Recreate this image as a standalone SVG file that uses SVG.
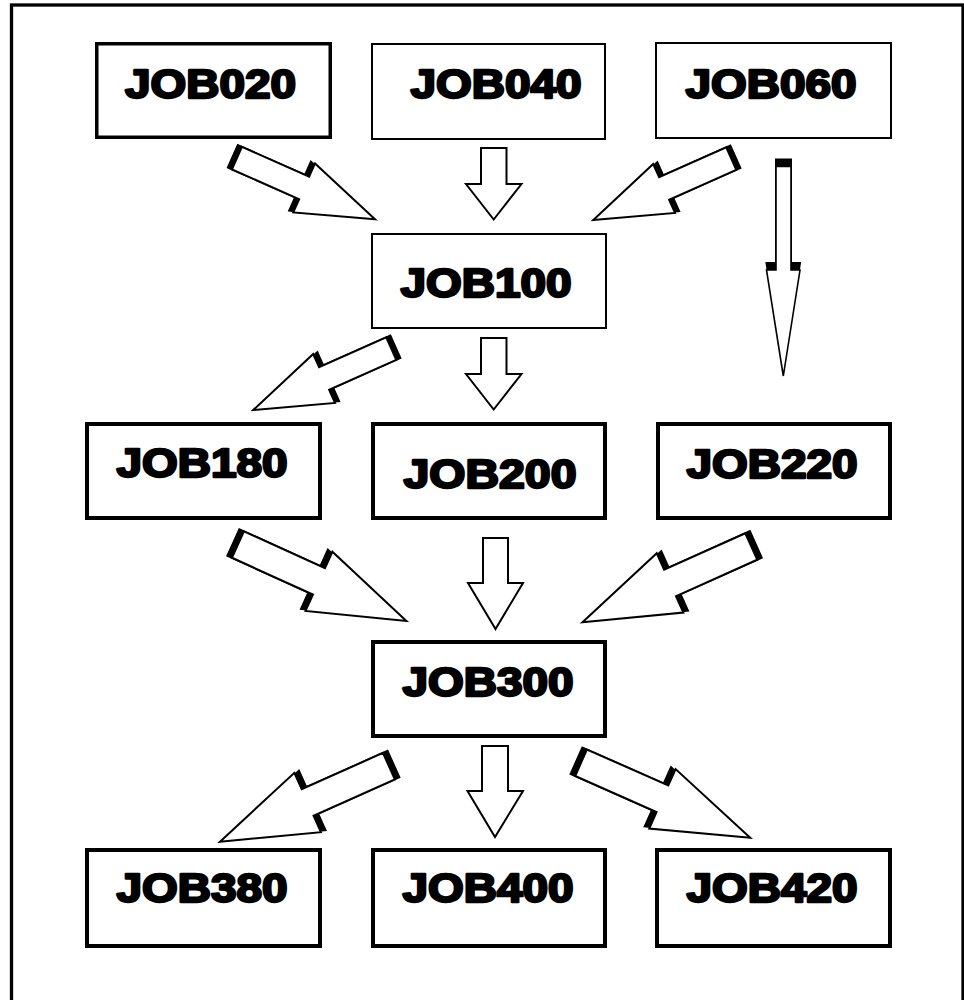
<svg xmlns="http://www.w3.org/2000/svg" xmlns:xlink="http://www.w3.org/1999/xlink" width="964" height="1000" viewBox="0 0 964 1000">
<style>
.frame{fill:none;stroke:#000;stroke-width:3.3}
.box{fill:#fff;stroke:#000}
.thin{stroke-width:2}
.mid{stroke-width:3.5}
.thick{stroke-width:4}
.lbl{font-family:"Liberation Sans",Arial,sans-serif;font-weight:bold;font-size:40px;fill:#000;stroke:#000;stroke-width:2.4;stroke-linejoin:round;text-anchor:middle}
.arr{fill:#fff;stroke:#000;stroke-width:2;stroke-linejoin:miter}
.shd{fill:#000;stroke:#000;stroke-width:2;stroke-linejoin:miter}
.arrthin{fill:#fff;stroke:#000;stroke-width:1.6}
</style>
<defs>
<polygon id="dsm" points="0,0 -77.5,-26.8 -77.5,-12.3 -151,-12.3 -151,12.3 -77.5,12.3 -77.5,26.8"/>
<polygon id="dlg" points="0,0 -96,-32.5 -96,-14.5 -185,-14.5 -185,14.5 -96,14.5 -96,32.5"/>
</defs>
<rect class="frame" x="11.5" y="5" width="951.5" height="1000"/>

<g id="connectors">
<!-- JOB020 -> JOB100 -->
<use xlink:href="#dsm" class="shd" transform="translate(375,219.3) rotate(23.9) translate(-4.5,0)"/>
<use xlink:href="#dsm" class="arr" transform="translate(375,219.3) rotate(23.9)"/>
<!-- JOB040 -> JOB100 -->
<polygon class="arr" points="481,148 506.5,148 506.5,184 521.5,184 493.7,219.5 466,184 481,184"/>
<!-- JOB060 -> JOB100 -->
<use xlink:href="#dsm" class="shd" transform="translate(593.3,220) rotate(156) translate(-4.5,0)"/>
<use xlink:href="#dsm" class="arr" transform="translate(593.3,220) rotate(156)"/>
<!-- JOB060 -> JOB220 -->
<polygon class="shd" points="776,159.5 791,159.5 791,263 800,263 783.3,369 766.5,263 776,263"/>
<polygon class="arrthin" points="776,166.5 791,166.5 791,270 800,270 783.3,376 766.5,270 776,270"/>
<!-- JOB100 -> JOB180 -->
<use xlink:href="#dsm" class="shd" transform="translate(253.3,410) rotate(156) translate(-4.5,0)"/>
<use xlink:href="#dsm" class="arr" transform="translate(253.3,410) rotate(156)"/>
<!-- JOB100 -> JOB200 -->
<polygon class="arr" points="481,338 506.5,338 506.5,374 521.5,374 493.7,409.5 466,374 481,374"/>
<!-- JOB180 -> JOB300 -->
<use xlink:href="#dlg" class="shd" transform="translate(406.4,621) rotate(24.4) translate(-5,0)"/>
<use xlink:href="#dlg" class="arr" transform="translate(406.4,621) rotate(24.4)"/>
<!-- JOB200 -> JOB300 -->
<polygon class="arr" points="483,538 508,538 508,583 523,583 495.5,629 468,583 483,583"/>
<!-- JOB220 -> JOB300 -->
<use xlink:href="#dlg" class="shd" transform="translate(582.5,622.3) rotate(155.8) translate(-5,0)"/>
<use xlink:href="#dlg" class="arr" transform="translate(582.5,622.3) rotate(155.8)"/>
<!-- JOB300 -> JOB380 -->
<use xlink:href="#dlg" class="shd" transform="translate(220,841.7) rotate(155.9) translate(-5,0)"/>
<use xlink:href="#dlg" class="arr" transform="translate(220,841.7) rotate(155.9)"/>
<!-- JOB300 -> JOB400 -->
<polygon class="arr" points="482,746 508,746 508,791 523,791 495,837 467.5,791 482,791"/>
<!-- JOB300 -> JOB420 -->
<use xlink:href="#dlg" class="shd" transform="translate(750.2,837.7) rotate(23.9) translate(-5,0)"/>
<use xlink:href="#dlg" class="arr" transform="translate(750.2,837.7) rotate(23.9)"/>
</g>

<g id="JOB020"><rect class="box mid" x="96.75" y="43.75" width="233.5" height="93.5"/><text class="lbl" x="210.5" y="97.5" textLength="171" lengthAdjust="spacingAndGlyphs">JOB020</text></g>
<g id="JOB040"><rect class="box thin" x="372" y="44" width="233" height="95"/><text class="lbl" x="496" y="97.5" textLength="171" lengthAdjust="spacingAndGlyphs">JOB040</text></g>
<g id="JOB060"><rect class="box thin" x="656" y="43" width="235" height="95"/><text class="lbl" x="771" y="97.5" textLength="171" lengthAdjust="spacingAndGlyphs">JOB060</text></g>
<g id="JOB100"><rect class="box thin" x="372" y="234" width="234" height="94"/><text class="lbl" x="486" y="296.5" textLength="171" lengthAdjust="spacingAndGlyphs">JOB100</text></g>
<g id="JOB180"><rect class="box thick" x="87" y="424" width="233" height="94"/><text class="lbl" x="202" y="476.5" textLength="171" lengthAdjust="spacingAndGlyphs">JOB180</text></g>
<g id="JOB200"><rect class="box thick" x="373" y="424" width="232" height="94"/><text class="lbl" x="490" y="487.5" textLength="173" lengthAdjust="spacingAndGlyphs">JOB200</text></g>
<g id="JOB220"><rect class="box thick" x="658" y="424" width="232" height="94"/><text class="lbl" x="772" y="477.5" textLength="171" lengthAdjust="spacingAndGlyphs">JOB220</text></g>
<g id="JOB300"><rect class="box thick" x="373" y="642" width="232" height="94"/><text class="lbl" x="488" y="695.5" textLength="171" lengthAdjust="spacingAndGlyphs">JOB300</text></g>
<g id="JOB380"><rect class="box thick" x="87" y="850" width="233" height="96"/><text class="lbl" x="202" y="901.5" textLength="171" lengthAdjust="spacingAndGlyphs">JOB380</text></g>
<g id="JOB400"><rect class="box thick" x="373" y="850" width="232" height="96"/><text class="lbl" x="488" y="901.5" textLength="171" lengthAdjust="spacingAndGlyphs">JOB400</text></g>
<g id="JOB420"><rect class="box thick" x="657" y="850" width="233" height="96"/><text class="lbl" x="772" y="901.5" textLength="171" lengthAdjust="spacingAndGlyphs">JOB420</text></g>
</svg>
